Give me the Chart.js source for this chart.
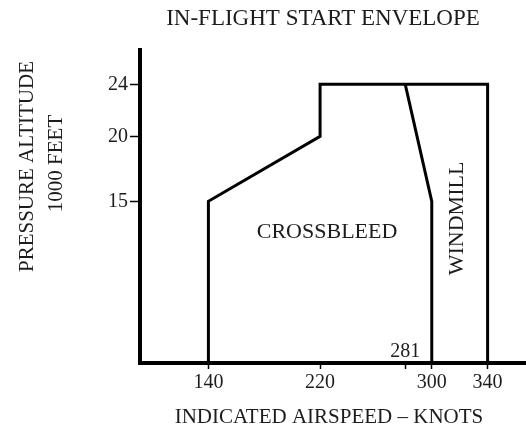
<!DOCTYPE html>
<html>
<head>
<meta charset="utf-8">
<script src="https://cdn.jsdelivr.net/npm/chart.js@4/dist/chart.umd.min.js"></script>
<style>
  html, body { margin: 0; padding: 0; background: #fff; }
  canvas { display: block; }
</style>
</head>
<body>
<canvas id="envChart" width="526" height="428"></canvas>
<script>
// ---------------------------------------------------------
// DATA
// ---------------------------------------------------------
const xTicks = [140, 220, 281, 300, 340];      // indicated airspeed, knots
const yTicks = [15, 20, 24];                    // pressure altitude, 1000 ft
const AXIS_MIN_ALT = 2.56;                      // altitude where the bottom axis sits

// outer envelope boundary (knots / 1000 ft)
const envelopeSpeed = [140, 140, 220, 220, 340, 340];
const envelopeAlt   = [AXIS_MIN_ALT, 15, 20, 24, 24, AXIS_MIN_ALT];

// crossbleed / windmill divider
const dividerSpeed = [281, 300, 300];
const dividerAlt   = [24, 15, AXIS_MIN_ALT];

const TEXT = '#1c1c1c';
const SERIF = '"Liberation Serif", "Times New Roman", serif';

const toPoints = (xs, ys) => xs.map((x, i) => ({ x, y: ys[i] }));

// ---------------------------------------------------------
// TEXT LABELS
// ---------------------------------------------------------
const labelPlugin = {
    id: 'labels',
    afterDraw(chart) {
        const ctx = chart.ctx;
        const xs = chart.scales.x, ys = chart.scales.y;
        ctx.save();
        ctx.fillStyle = TEXT;
        ctx.textBaseline = 'alphabetic';
        ctx.textAlign = 'center';

        ctx.font = '23px ' + SERIF;
        ctx.fillText('IN-FLIGHT START ENVELOPE', 323, 25);

        ctx.font = '21px ' + SERIF;
        ctx.fillText('INDICATED AIRSPEED \u2013 KNOTS', 329, 423);

        ctx.font = '22px ' + SERIF;
        ctx.fillText('CROSSBLEED', xs.getPixelForValue(225), ys.getPixelForValue(12.18));

        ctx.font = '20px ' + SERIF;
        ctx.fillText('281', xs.getPixelForValue(281), 357);

        // rotated texts
        const vtext = (txt, x, y, font) => {
            ctx.save();
            ctx.translate(x, y);
            ctx.rotate(-Math.PI / 2);
            ctx.font = font;
            ctx.fillText(txt, 0, 0);
            ctx.restore();
        };
        vtext('PRESSURE ALTITUDE', 33, 166.5, '21px ' + SERIF);
        vtext('1000 FEET', 62, 163.5, '21px ' + SERIF);
        vtext('WINDMILL', xs.getPixelForValue(322.3), ys.getPixelForValue(13.68), '22px ' + SERIF);
        ctx.restore();
    }
};

const lineStyle = {
    borderColor: '#000',
    borderWidth: 3,
    pointRadius: 0,
    tension: 0,
    fill: false,
    borderJoinStyle: 'miter'
};

new Chart(document.getElementById('envChart'), {
    type: 'line',
    data: {
        datasets: [
            { label: 'Envelope', data: toPoints(envelopeSpeed, envelopeAlt), ...lineStyle },
            { label: 'Divider', data: toPoints(dividerSpeed, dividerAlt), ...lineStyle }
        ]
    },
    options: {
        responsive: false,
        devicePixelRatio: 1,
        animation: false,
        layout: { padding: { top: 50, left: 0, right: 0, bottom: 0 } },
        plugins: { legend: { display: false }, title: { display: false }, tooltip: { enabled: false } },
        scales: {
            x: {
                type: 'linear',
                position: 'bottom',
                min: 91,
                max: 367.5,
                afterBuildTicks: s => { s.ticks = xTicks.map(v => ({ value: v })); },
                afterFit: s => { s.height = 65; },
                grid: { drawOnChartArea: false, drawTicks: true, tickLength: 6, tickWidth: 1.5, tickColor: '#000' },
                border: { display: true, color: '#000', width: 4 },
                ticks: {
                    color: TEXT,
                    padding: 2,
                    maxRotation: 0,
                    autoSkip: false,
                    font: { family: SERIF, size: 20 },
                    callback: v => (v === 281 ? '' : String(v))
                }
            },
            y: {
                type: 'linear',
                position: 'left',
                min: AXIS_MIN_ALT,
                max: 26.64,
                afterBuildTicks: s => { s.ticks = yTicks.map(v => ({ value: v })); },
                afterFit: s => { s.width = 140; },
                grid: { drawOnChartArea: false, drawTicks: true, tickLength: 10, tickWidth: 1.5, tickColor: '#000' },
                border: { display: true, color: '#000', width: 4 },
                ticks: {
                    color: TEXT,
                    padding: 2,
                    autoSkip: false,
                    font: { family: SERIF, size: 20 }
                }
            }
        }
    },
    plugins: [labelPlugin]
});
</script>
</body>
</html>
